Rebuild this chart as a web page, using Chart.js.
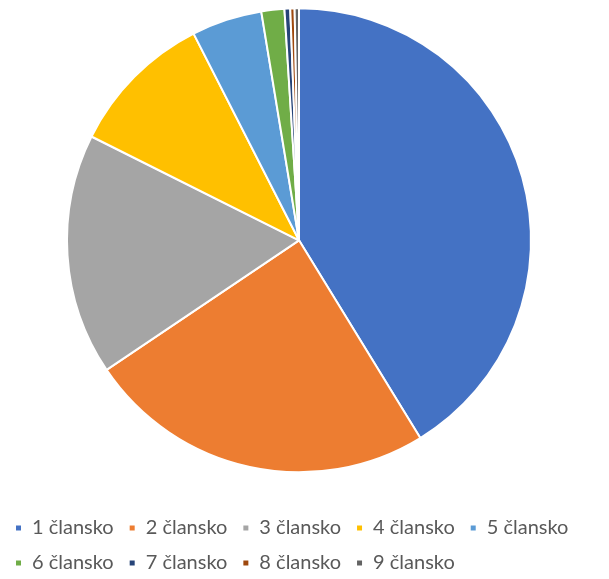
<!DOCTYPE html>
<html>
<head>
<meta charset="utf-8">
<script src="https://cdn.jsdelivr.net/npm/chart.js@4"></script>
<style>
  body { margin: 0; background: #fff; }
  #wrap { width: 609px; height: 579px; }
</style>
</head>
<body>
<div id="wrap"><canvas id="pie"></canvas></div>
<script>
// Categories and shares (percent)
const labels = ['1 člansko', '2 člansko', '3 člansko', '4 člansko', '5 člansko',
                '6 člansko', '7 člansko', '8 člansko', '9 člansko'];
const shares = [41.2, 24.3, 16.8, 10.1, 4.9, 1.6, 0.4, 0.3, 0.3];
const colors = ['#4472C4', '#ED7D31', '#A5A5A5', '#FFC000', '#5B9BD5',
                '#70AD47', '#264478', '#9E480E', '#636363'];

new Chart(document.getElementById('pie'), {
    type: 'pie',
    data: {
        labels: labels,
        datasets: [{
            data: shares,
            backgroundColor: colors,
            borderColor: '#fff',
            borderWidth: 2,
            radius: 232,
        }],
    },
    options: {
        responsive: true,
        maintainAspectRatio: false,
        animation: false,
        layout: { padding: { top: 0, bottom: -4, left: 0, right: 11 } },
        plugins: {
            legend: {
                position: 'bottom',
                align: 'start',
                title: { display: true, text: '', padding: 4 },
                labels: {
                    usePointStyle: true,
                    pointStyle: 'rect',
                    boxWidth: 7,
                    boxHeight: 7,
                    padding: 15,
                    color: '#595959',
                    font: { family: 'Lato', size: 20 },
                },
            },
            tooltip: { enabled: false },
        },
    },
});
</script>
</body>
</html>
